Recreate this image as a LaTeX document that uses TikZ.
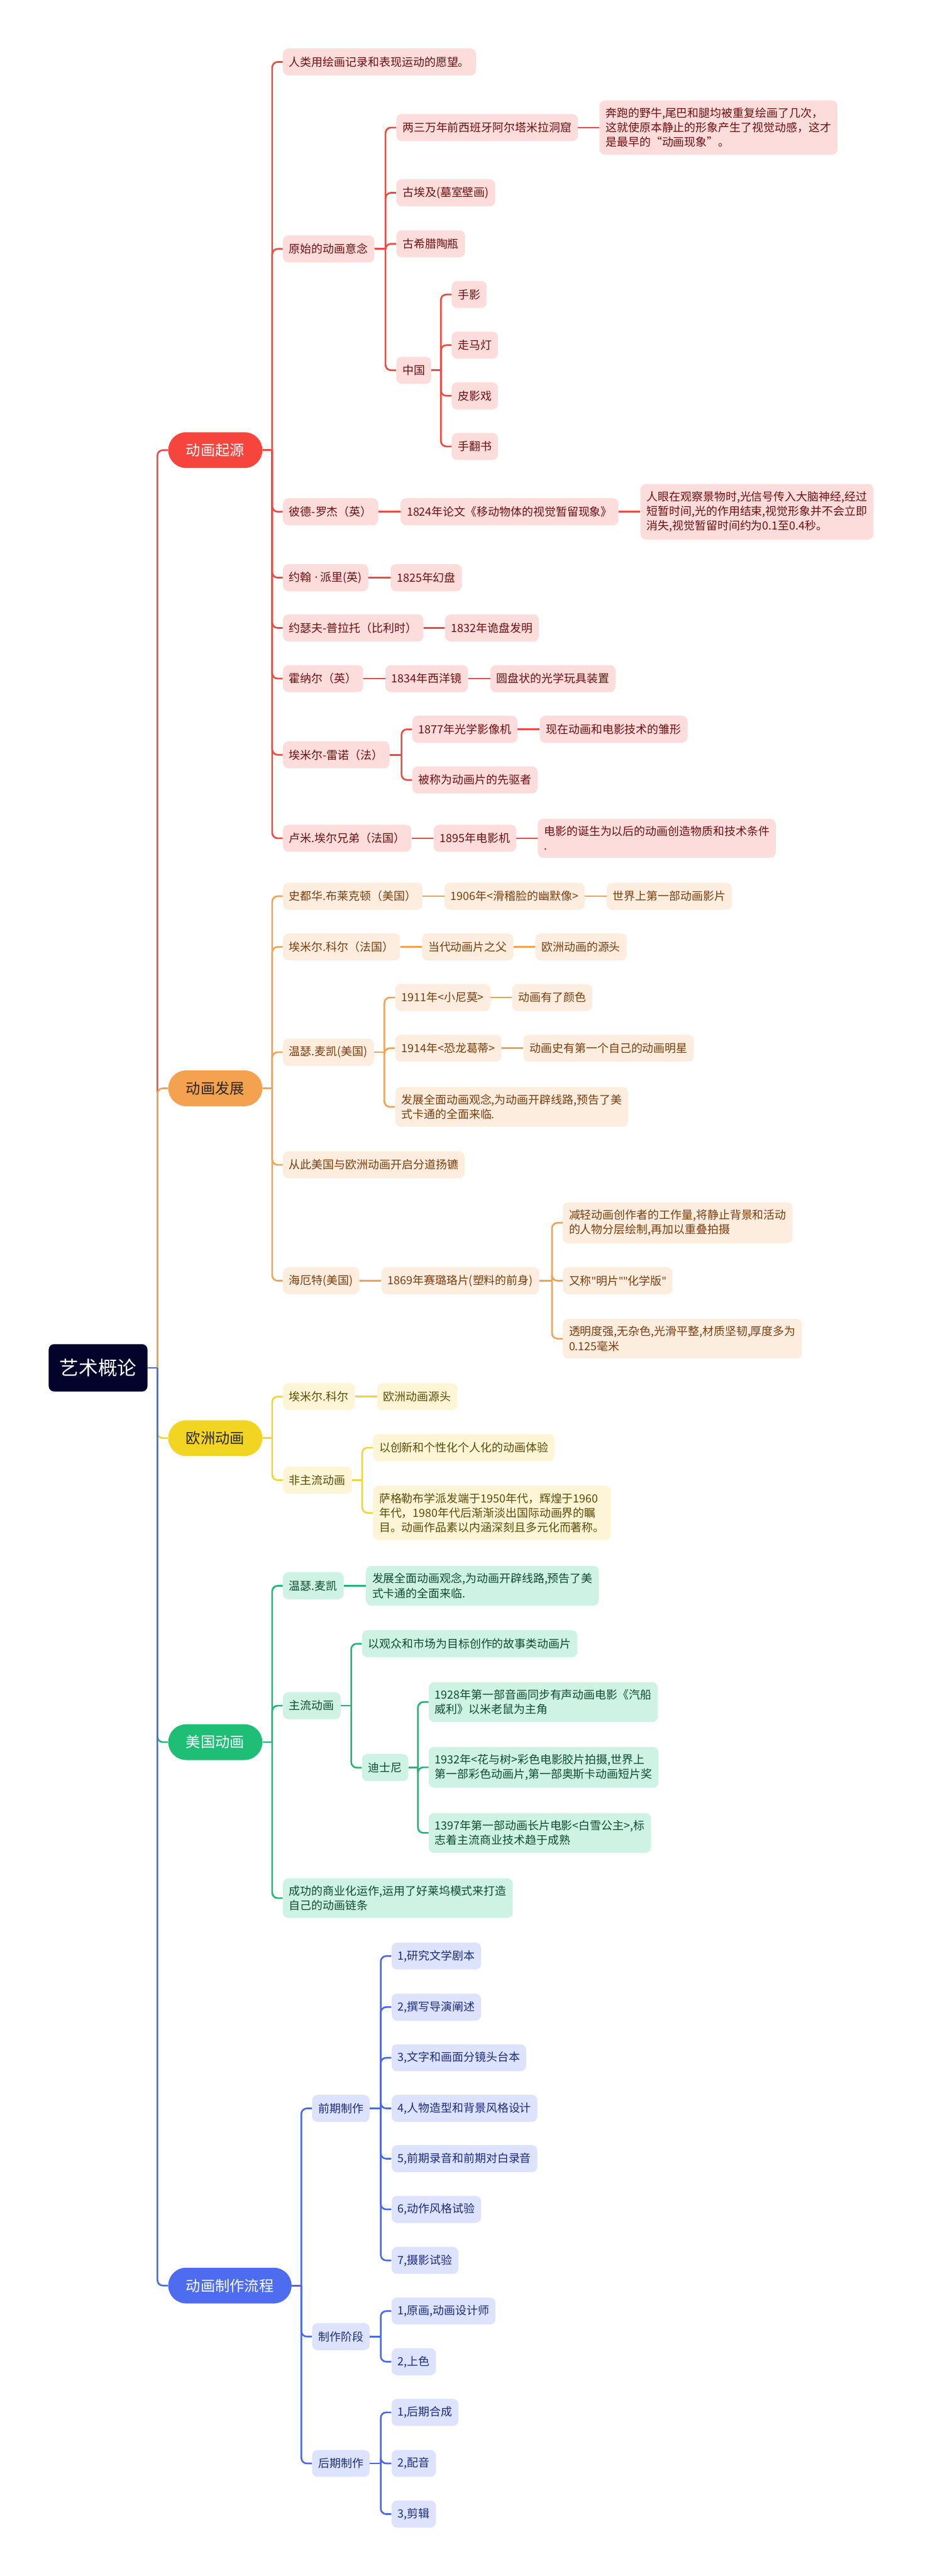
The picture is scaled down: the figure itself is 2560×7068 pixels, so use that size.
\documentclass[tikz,border=0pt]{standalone}
\usepackage{fontspec}
\setmainfont{Noto Sans CJK SC}
\newfontfamily\latq{Noto Sans}
\usetikzlibrary{positioning,calc}
\definecolor{rootc}{HTML}{03032B}
\definecolor{mR}{HTML}{F5453D}\definecolor{lnR}{HTML}{EE4A40}\definecolor{lfR}{HTML}{FDDCDC}\definecolor{txR}{HTML}{6E0F0F}
\definecolor{mO}{HTML}{F4A150}\definecolor{lnO}{HTML}{F0A354}\definecolor{lfO}{HTML}{FDEDDF}\definecolor{txO}{HTML}{7A3D0E}
\definecolor{mY}{HTML}{F2D523}\definecolor{lnY}{HTML}{F0D43A}\definecolor{lfY}{HTML}{FDF5D6}\definecolor{txY}{HTML}{5C4A08}
\definecolor{mG}{HTML}{1FBE77}\definecolor{lnG}{HTML}{1EB877}\definecolor{lfG}{HTML}{CEF2E3}\definecolor{txG}{HTML}{0E4A31}
\definecolor{mB}{HTML}{4D6CF0}\definecolor{lnB}{HTML}{4A68EA}\definecolor{lfB}{HTML}{DDE2FD}\definecolor{txB}{HTML}{1B2B7F}
\newcommand{\leaffnt}{\fontsize{8.8pt}{11.4pt}\selectfont}
\newcommand{\mainfnt}{\fontsize{11.4pt}{14pt}\selectfont}
\newcommand{\rootfnt}{\fontsize{15pt}{18pt}\selectfont}
\newcommand{\dq}{{\latq\char"22}}
\tikzset{
  leafbase/.style={rounded corners=0.15cm, inner xsep=0.17cm, inner ysep=0.2cm, minimum height=0.74cm, font=\leaffnt, align=left, anchor=west},
  lR/.style={leafbase, fill=lfR, text=txR},
  lO/.style={leafbase, fill=lfO, text=txO},
  lY/.style={leafbase, fill=lfY, text=txY},
  lG/.style={leafbase, fill=lfG, text=txG},
  lB/.style={leafbase, fill=lfB, text=txB},
  mainbox/.style={rounded corners=0.49cm, minimum height=0.98cm, inner xsep=0.49cm, font=\mainfnt, anchor=west},
  rootbox/.style={rounded corners=0.15cm, minimum height=1.30cm, inner xsep=0.30cm, font=\rootfnt, anchor=west, fill=rootc, text=white},
  cR/.style={draw=lnR, line width=1.3pt},
  cO/.style={draw=lnO, line width=1.3pt},
  cY/.style={draw=lnY, line width=1.3pt},
  cG/.style={draw=lnG, line width=1.3pt},
  cB/.style={draw=lnB, line width=1.3pt},
}
\newcommand{\bconn}[3]{%
  \draw[#1] (#2.east) -- ($(#2.east -| #3.west)+(-29,0)$);
  \draw[#1,rounded corners=0.15cm] ($(#2.east -| #3.west)+(-29,0)$) |- (#3.west);}
\newcommand{\hconn}[3]{\draw[#1] (#2.east) -- (#3.west);}
\begin{document}
\begin{tikzpicture}[x=0.01cm,y=-0.01cm]
\useasboundingbox (0,0) rectangle (2560,7068);
\fill[white] (0,0) rectangle (2560,7068);

% root and main branches
\node[rootbox] (root) at (133,3753) {艺术概论};
\node[mainbox, fill=mR, text=white] (mR) at (461,1235) {动画起源};
\node[mainbox, fill=mO, text=black!85] (mO) at (461,2986) {动画发展};
\node[mainbox, fill=mY, text=black!85] (mY) at (461,3946) {欧洲动画};
\node[mainbox, fill=mG, text=white] (mG) at (461,4780) {美国动画};
\node[mainbox, fill=mB, text=white] (mB) at (461,6271) {动画制作流程};

% ---------- red branch ----------
\node[lR] (r1) at (776,170) {人类用绘画记录和表现运动的愿望。};
\node[lR] (r2) at (776,683) {原始的动画意念};
\node[lR] (r2a) at (1087,350) {两三万年前西班牙阿尔塔米拉洞窟};
\node[lR, right=0.58cm of r2a] (r2aa) {奔跑的野牛,尾巴和腿均被重复绘画了几次，\\这就使原本静止的形象产生了视觉动感，这才\\是最早的“动画现象”。};
\node[lR] (r2b) at (1087,529) {古埃及(墓室壁画)};
\node[lR] (r2c) at (1087,669) {古希腊陶瓶};
\node[lR] (r2d) at (1087,1016) {中国};
\node[lR] (r2d1) at (1239,808) {手影};
\node[lR] (r2d2) at (1239,947) {走马灯};
\node[lR] (r2d3) at (1239,1086) {皮影戏};
\node[lR] (r2d4) at (1239,1225) {手翻书};
\node[lR] (r3) at (776,1404) {彼德-罗杰（英）};
\node[lR, right=0.6cm of r3] (r3a) {1824年论文《移动物体的视觉暂留现象》};
\node[lR, right=0.59cm of r3a] (r3b) {人眼在观察景物时,光信号传入大脑神经,经过\\短暂时间,光的作用结束,视觉形象并不会立即\\消失,视觉暂留时间约为0.1至0.4秒。};
\node[lR] (r4) at (776,1585) {约翰{\latq\ ·\ }派里(英)};
\node[lR, right=0.6cm of r4] (r4a) {1825年幻盘};
\node[lR] (r5) at (776,1723) {约瑟夫-普拉托（比利时）};
\node[lR, right=0.58cm of r5] (r5a) {1832年诡盘发明};
\node[lR] (r6) at (776,1862) {霍纳尔（英）};
\node[lR, right=0.6cm of r6] (r6a) {1834年西洋镜};
\node[lR, right=0.6cm of r6a] (r6b) {圆盘状的光学玩具装置};
\node[lR] (r7) at (776,2071) {埃米尔-雷诺（法）};
\node[lR] (r7a) at (1131,2001) {1877年光学影像机};
\node[lR, right=0.6cm of r7a] (r7aa) {现在动画和电影技术的雏形};
\node[lR] (r7b) at (1131,2140) {被称为动画片的先驱者};
\node[lR] (r8) at (776,2300) {卢米.埃尔兄弟（法国）};
\node[lR, right=0.6cm of r8] (r8a) {1895年电影机};
\node[lR, right=0.58cm of r8a] (r8b) {电影的诞生为以后的动画创造物质和技术条件\\.};

% ---------- orange branch ----------
\node[lO] (o1) at (776,2459) {史都华.布莱克顿（美国）};
\node[lO, right=0.59cm of o1] (o1a) {1906年<滑稽脸的幽默像>};
\node[lO, right=0.59cm of o1a] (o1b) {世界上第一部动画影片};
\node[lO] (o2) at (776,2598) {埃米尔.科尔（法国）};
\node[lO, right=0.59cm of o2] (o2a) {当代动画片之父};
\node[lO, right=0.59cm of o2a] (o2b) {欧洲动画的源头};
\node[lO] (o3) at (776,2887) {温瑟.麦凯(美国)};
\node[lO] (o3a) at (1084,2737) {1911年<小尼莫>};
\node[lO, right=0.59cm of o3a] (o3aa) {动画有了颜色};
\node[lO] (o3b) at (1084,2876) {1914年<恐龙葛蒂>};
\node[lO, right=0.59cm of o3b] (o3bb) {动画史有第一个自己的动画明星};
\node[lO] (o3c) at (1084,3037) {发展全面动画观念,为动画开辟线路,预告了美\\式卡通的全面来临.};
\node[lO] (o4) at (776,3196) {从此美国与欧洲动画开启分道扬镳};
\node[lO] (o5) at (776,3514) {海厄特(美国)};
\node[lO, right=0.59cm of o5] (o5a) {1869年赛璐珞片(塑料的前身)};
\node[lO] (o5a1) at (1544,3355) {减轻动画创作者的工作量,将静止背景和活动\\的人物分层绘制,再加以重叠拍摄};
\node[lO] (o5a2) at (1544,3514) {又称\dq 明片\dq\dq 化学版\dq};
\node[lO] (o5a3) at (1544,3673) {透明度强,无杂色,光滑平整,材质坚韧,厚度多为\\0.125毫米};

% ---------- yellow branch ----------
\node[lY] (y1) at (776,3832) {埃米尔.科尔};
\node[lY, right=0.6cm of y1] (y1a) {欧洲动画源头};
\node[lY] (y2) at (776,4061) {非主流动画};
\node[lY] (y2a) at (1023,3972) {以创新和个性化个人化的动画体验};
\node[lY] (y2b) at (1023,4151) {萨格勒布学派发端于1950年代，辉煌于1960\\年代，1980年代后渐渐淡出国际动画界的瞩\\目。动画作品素以内涵深刻且多元化而著称。};

% ---------- green branch ----------
\node[lG] (g1) at (776,4351) {温瑟.麦凯};
\node[lG, right=0.6cm of g1] (g1a) {发展全面动画观念,为动画开辟线路,预告了美\\式卡通的全面来临.};
\node[lG] (g2) at (776,4680) {主流动画};
\node[lG] (g2a) at (993,4510) {以观众和市场为目标创作的故事类动画片};
\node[lG] (g2b) at (993,4850) {迪士尼};
\node[lG] (g2b1) at (1176,4670) {1928年第一部音画同步有声动画电影《汽船\\威利》以米老鼠为主角};
\node[lG] (g2b2) at (1176,4849) {1932年<花与树>彩色电影胶片拍摄,世界上\\第一部彩色动画片,第一部奥斯卡动画短片奖};
\node[lG] (g2b3) at (1176,5029) {1397年第一部动画长片电影<白雪公主>,标\\志着主流商业技术趋于成熟};
\node[lG] (g3) at (776,5208) {成功的商业化运作,运用了好莱坞模式来打造\\自己的动画链条};

% ---------- blue branch ----------
\node[lB] (b1) at (856,5785) {前期制作};
\node[lB] (b1a) at (1074,5367) {1,研究文学剧本};
\node[lB] (b1b) at (1074,5507) {2,撰写导演阐述};
\node[lB] (b1c) at (1074,5646) {3,文字和画面分镜头台本};
\node[lB] (b1d) at (1074,5785) {4,人物造型和背景风格设计};
\node[lB] (b1e) at (1074,5923) {5,前期录音和前期对白录音};
\node[lB] (b1f) at (1074,6062) {6,动作风格试验};
\node[lB] (b1g) at (1074,6202) {7,摄影试验};
\node[lB] (b2) at (856,6411) {制作阶段};
\node[lB] (b2a) at (1074,6341) {1,原画,动画设计师};
\node[lB] (b2b) at (1074,6480) {2,上色};
\node[lB] (b3) at (856,6759) {后期制作};
\node[lB] (b3a) at (1074,6619) {1,后期合成};
\node[lB] (b3b) at (1074,6759) {2,配音};
\node[lB] (b3c) at (1074,6898) {3,剪辑};

% ---------- connectors ----------
\bconn{cR}{root}{mR}
\bconn{cO}{root}{mO}
\bconn{cY}{root}{mY}
\bconn{cG}{root}{mG}
\bconn{cB}{root}{mB}

\foreach \c in {r1,r2,r3,r4,r5,r6,r7,r8} {\bconn{cR}{mR}{\c}}
\foreach \c in {r2a,r2b,r2c,r2d} {\bconn{cR}{r2}{\c}}
\foreach \c in {r2d1,r2d2,r2d3,r2d4} {\bconn{cR}{r2d}{\c}}
\foreach \c in {r7a,r7b} {\bconn{cR}{r7}{\c}}
\hconn{cR}{r2a}{r2aa}
\hconn{cR}{r3}{r3a}\hconn{cR}{r3a}{r3b}
\hconn{cR}{r4}{r4a}
\hconn{cR}{r5}{r5a}
\hconn{cR}{r6}{r6a}\hconn{cR}{r6a}{r6b}
\hconn{cR}{r7a}{r7aa}
\hconn{cR}{r8}{r8a}\hconn{cR}{r8a}{r8b}

\foreach \c in {o1,o2,o3,o4,o5} {\bconn{cO}{mO}{\c}}
\foreach \c in {o3a,o3b,o3c} {\bconn{cO}{o3}{\c}}
\foreach \c in {o5a1,o5a2,o5a3} {\bconn{cO}{o5a}{\c}}
\hconn{cO}{o1}{o1a}\hconn{cO}{o1a}{o1b}
\hconn{cO}{o2}{o2a}\hconn{cO}{o2a}{o2b}
\hconn{cO}{o3a}{o3aa}
\hconn{cO}{o3b}{o3bb}
\hconn{cO}{o5}{o5a}

\foreach \c in {y1,y2} {\bconn{cY}{mY}{\c}}
\foreach \c in {y2a,y2b} {\bconn{cY}{y2}{\c}}
\hconn{cY}{y1}{y1a}

\foreach \c in {g1,g2,g3} {\bconn{cG}{mG}{\c}}
\foreach \c in {g2a,g2b} {\bconn{cG}{g2}{\c}}
\foreach \c in {g2b1,g2b2,g2b3} {\bconn{cG}{g2b}{\c}}
\hconn{cG}{g1}{g1a}

\foreach \c in {b1,b2,b3} {\bconn{cB}{mB}{\c}}
\foreach \c in {b1a,b1b,b1c,b1d,b1e,b1f,b1g} {\bconn{cB}{b1}{\c}}
\foreach \c in {b2a,b2b} {\bconn{cB}{b2}{\c}}
\foreach \c in {b3a,b3b,b3c} {\bconn{cB}{b3}{\c}}
\end{tikzpicture}
\end{document}
